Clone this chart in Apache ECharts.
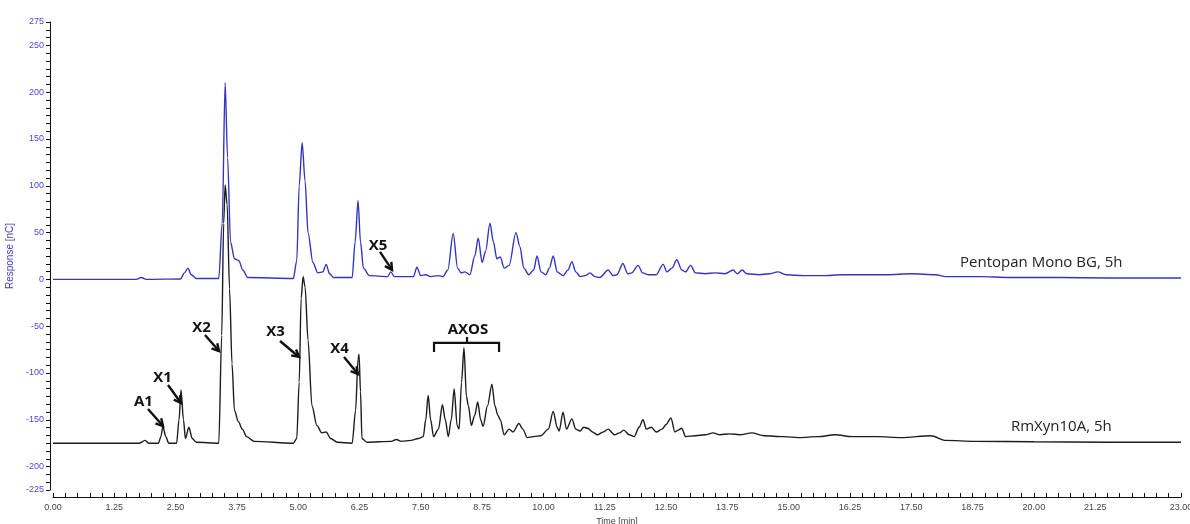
<!DOCTYPE html>
<html><head><meta charset="utf-8">
<script src="https://cdn.jsdelivr.net/npm/echarts@6/dist/echarts.min.js"></script>
<style>html,body{margin:0;padding:0;background:#fff}#c{width:1190px;height:524px}</style>
</head><body><div id="c"></div>
<script>
// ---- DATA (time [min], response [nC]) ----
const seriesNames = ['Pentopan Mono BG, 5h', 'RmXyn10A, 5h'];

const pentopan = [
[0,0],[1.7,0],[1.8,2],[1.9,0],[2.6,0.5],[2.68,7],[2.75,12],[2.82,5],[2.92,1],[3.38,1],[3.45,60],[3.51,210],[3.56,130],[3.62,40],[3.7,22],[3.79,20],[3.87,10],[3.97,2],
[4.9,1],[4.97,20],[5.02,100],[5.08,146],[5.14,105],[5.2,50],[5.3,18],[5.4,7],[5.5,8],[5.57,16],[5.64,6],[5.72,2],
[6.1,2],[6.16,40],[6.22,84],[6.27,40],[6.33,12],[6.45,4],[6.82,3],[6.89,8],[6.96,3],[7.35,3],[7.42,13],[7.5,4],[7.6,5],[7.7,3],[7.85,4],[7.95,3],
[8.05,10],[8.16,49],[8.25,12],[8.32,7],[8.4,8],[8.5,5],[8.6,25],[8.67,44],[8.75,18],[8.82,30],[8.91,60],[8.98,40],[9.05,22],[9.12,24],[9.2,12],[9.3,15],[9.44,50],[9.52,35],[9.6,12],[9.7,5],
[9.8,10],[9.87,25],[9.95,8],[10.05,5],[10.12,12],[10.2,25],[10.28,8],[10.4,4],[10.5,10],[10.58,19],[10.66,8],[10.75,3],[10.85,4],[10.95,7],[11.05,3],[11.15,2],
[11.32,10],[11.42,4],[11.5,5],[11.62,17],[11.72,6],[11.8,7],[11.93,15],[12.02,7],[12.15,5],[12.3,5],[12.44,16],[12.52,8],[12.62,12],[12.72,21],[12.82,10],[12.9,8],[13.0,15],[13.1,7],
[13.3,6],[13.5,7],[13.7,6],[13.87,10],[13.95,6],[14.05,10],[14.15,6],[14.4,5],[14.6,6],[14.78,8],[14.95,5],[15.3,4],[15.7,4],[16.1,5],[16.5,5],[17.0,5],[17.5,6],[18.0,5],[18.2,3],[18.9,3],[19.5,2],[20.5,2],[21.5,1.5],[23,1.5]
];

const rmxyn = [
[0,-175],[1.75,-175],[1.88,-172],[1.95,-175],[2.15,-175],[2.2,-168],[2.24,-157],[2.3,-168],[2.36,-175],[2.52,-175],[2.57,-150],[2.61,-118],[2.66,-150],[2.7,-170],[2.77,-158],[2.84,-170],[2.92,-174],
[3.38,-175],[3.44,-60],[3.48,60],[3.51,101],[3.55,80],[3.6,-10],[3.65,-90],[3.7,-140],[3.78,-152],[3.86,-160],[3.95,-168],[4.1,-173],
[4.9,-175],[4.97,-170],[5.02,-110],[5.06,-20],[5.1,3],[5.14,-8],[5.2,-65],[5.28,-135],[5.38,-156],[5.48,-164],[5.57,-163],[5.66,-170],[5.8,-174],
[6.1,-175],[6.17,-140],[6.22,-85],[6.24,-80],[6.27,-120],[6.3,-170],[6.4,-174],[6.9,-173],[7.0,-171],[7.1,-173],[7.3,-172],[7.45,-170],[7.55,-168],
[7.6,-150],[7.65,-124],[7.7,-150],[7.76,-168],[7.86,-160],[7.94,-134],[8.0,-150],[8.06,-168],[8.12,-150],[8.18,-117],[8.24,-156],[8.28,-160],[8.33,-110],[8.38,-73],[8.43,-125],[8.47,-135],[8.53,-156],
[8.6,-145],[8.66,-131],[8.72,-150],[8.77,-157],[8.86,-135],[8.95,-112],[9.01,-135],[9.07,-145],[9.12,-150],[9.2,-166],[9.3,-160],[9.38,-163],[9.5,-154],[9.58,-160],[9.67,-169],[9.8,-168],[9.95,-167],
[10.1,-160],[10.2,-141],[10.28,-158],[10.32,-162],[10.4,-142],[10.47,-160],[10.58,-149],[10.66,-160],[10.75,-162],[10.82,-158],[10.9,-159],[11.0,-163],[11.1,-166],[11.22,-163],[11.32,-160],[11.45,-166],
[11.55,-164],[11.64,-161],[11.75,-166],[11.85,-168],[11.95,-158],[12.03,-150],[12.1,-160],[12.2,-158],[12.3,-163],[12.42,-160],[12.5,-155],[12.6,-148],[12.68,-163],[12.75,-161],[12.82,-159],[12.9,-168],
[13.1,-167],[13.3,-166],[13.46,-164],[13.6,-166],[13.8,-165],[14.0,-166],[14.25,-164],[14.5,-167],[14.9,-168],[15.2,-169],[15.6,-168],[15.95,-166],[16.3,-168],[16.8,-168],[17.3,-169],[17.9,-167],[18.2,-172],[18.8,-173],[20,-173.5],[21.5,-174],[23,-174]
];

const xTickLabels = [0,1.25,2.5,3.75,5,6.25,7.5,8.75,10,11.25,12.5,13.75,15,16.25,17.5,18.75,20,21.25,23];
const yTickLabels = [-225,-200,-150,-100,-50,0,50,100,150,200,250,275];

// annotations in data coordinates
const peakNotes = [
  {text:'A1', at:[1.845,-131.0], from:[1.937,-138.5], to:[2.243,-156.7]},
  {text:'X1', at:[2.233,-105.3], from:[2.345,-112.8], to:[2.610,-132.1]},
  {text:'X2', at:[3.028,-51.9],  from:[3.099,-59.4],  to:[3.385,-76.5]},
  {text:'X3', at:[4.537,-56.1],  from:[4.629,-65.8],  to:[5.016,-82.9]},
  {text:'X4', at:[5.842,-74.3],  from:[5.934,-82.9],  to:[6.219,-101.1]},
  {text:'X5', at:[6.627,35.8],   from:[6.668,29.4],   to:[6.913,10.2]}
];
const axosNote = {text:'AXOS', at:[8.462,-54.0], left:7.769, right:9.095, top:-67.9, ends:-77.5, mid:8.442, midTop:-61.5};
const seriesNotes = [
  {text:seriesNames[0], at:[20.15,17.6]},
  {text:seriesNames[1], at:[20.56,-157.8]}
];

// ---- CHART ----
const chart = echarts.init(document.getElementById('c'), null, {renderer:'canvas'});
const tickFont = {fontFamily:'Liberation Sans, Arial, sans-serif', fontSize:9};
const xMinor = [];
for (let i = 0; i <= 92; i++) xMinor.push(i * 0.25);

chart.setOption({
  animation:false,
  backgroundColor:'#fff',
  grid:{left:53, right:9, top:22, bottom:34, outerBoundsMode:'none', containLabel:false},
  xAxis:{
    type:'value', min:0, max:23, interval:1.25, offset:7,
    name:'Time [min]', nameLocation:'middle', nameGap:20,
    nameTextStyle:Object.assign({color:'#444'}, tickFont),
    axisLine:{show:true, onZero:false, lineStyle:{color:'#111', width:1}},
    axisTick:{show:true, inside:true, length:4, customValues:xMinor, lineStyle:{color:'#111'}},
    axisLabel:Object.assign({color:'#444', margin:6, customValues:xTickLabels,
      formatter:v=>Number(v).toFixed(2)}, tickFont),
    splitLine:{show:false}
  },
  yAxis:{
    type:'value', min:-225, max:275, interval:25, offset:3,
    name:'Response [nC]', nameLocation:'middle', nameGap:34,
    nameTextStyle:Object.assign({color:'#3d3dc8'}, tickFont, {fontSize:10}),
    axisLine:{show:true, onZero:false, lineStyle:{color:'#111', width:1}},
    axisTick:{show:true, length:4, lineStyle:{color:'#111'}},
    minorTick:{show:true, splitNumber:3, length:4, lineStyle:{color:'#111'}},
    axisLabel:Object.assign({color:'#4a4ad0', margin:6, customValues:yTickLabels,
      formatter:v=>String(v)}, tickFont),
    splitLine:{show:false}, minorSplitLine:{show:false}
  },
  series:[
    {name:seriesNames[0], type:'line', data:pentopan, showSymbol:false, symbol:'none',
     smooth:0.3, smoothMonotone:'x',
     lineStyle:{color:'#3434c2', width:1.4}, z:2},
    {name:seriesNames[1], type:'line', data:rmxyn, showSymbol:false, symbol:'none',
     smooth:0.3, smoothMonotone:'x',
     lineStyle:{color:'#1c1c1c', width:1.4}, z:3}
  ]
});

// annotations converted through the axes
function px(p){ return chart.convertToPixel({gridIndex:0}, p); }
const g = [];
const boldFont = '700 15px "Open Sans", sans-serif';
peakNotes.forEach(n=>{
  const a = px(n.at), f = px(n.from), t = px(n.to);
  g.push({type:'text', x:a[0], y:a[1], style:{text:n.text, font:boldFont, fill:'#111', align:'center', verticalAlign:'middle'}, z:10});
  g.push({type:'line', shape:{x1:f[0], y1:f[1], x2:t[0], y2:t[1]}, style:{stroke:'#111', lineWidth:2.4}, z:10});
  const ang = Math.atan2(t[1]-f[1], t[0]-f[0]), L = 8, s = 0.5;
  g.push({type:'polyline', shape:{points:[
    [t[0]-L*Math.cos(ang-s), t[1]-L*Math.sin(ang-s)], [t[0], t[1]],
    [t[0]-L*Math.cos(ang+s), t[1]-L*Math.sin(ang+s)]]},
    style:{stroke:'#111', lineWidth:2.4, fill:null, lineJoin:'miter'}, z:10});
});
(function(){
  const n = axosNote, a = px(n.at);
  const l = px([n.left, n.top]), r = px([n.right, n.top]);
  const le = px([n.left, n.ends]), re = px([n.right, n.ends]);
  const m = px([n.mid, n.top]), mt = px([n.mid, n.midTop]);
  g.push({type:'text', x:a[0], y:a[1], style:{text:n.text, font:boldFont, fill:'#111', align:'center', verticalAlign:'middle'}, z:10});
  g.push({type:'polyline', shape:{points:[le, l, r, re]}, style:{stroke:'#111', lineWidth:2.2, fill:null}, z:10});
  g.push({type:'line', shape:{x1:m[0], y1:m[1], x2:mt[0], y2:mt[1]}, style:{stroke:'#111', lineWidth:2.2}, z:10});
})();
seriesNotes.forEach(n=>{
  const a = px(n.at);
  g.push({type:'text', x:a[0], y:a[1], style:{text:n.text, font:'400 15px "Open Sans", sans-serif', fill:'#222', align:'center', verticalAlign:'middle'}, z:10});
});
chart.setOption({graphic:g});
</script>
</body></html>
